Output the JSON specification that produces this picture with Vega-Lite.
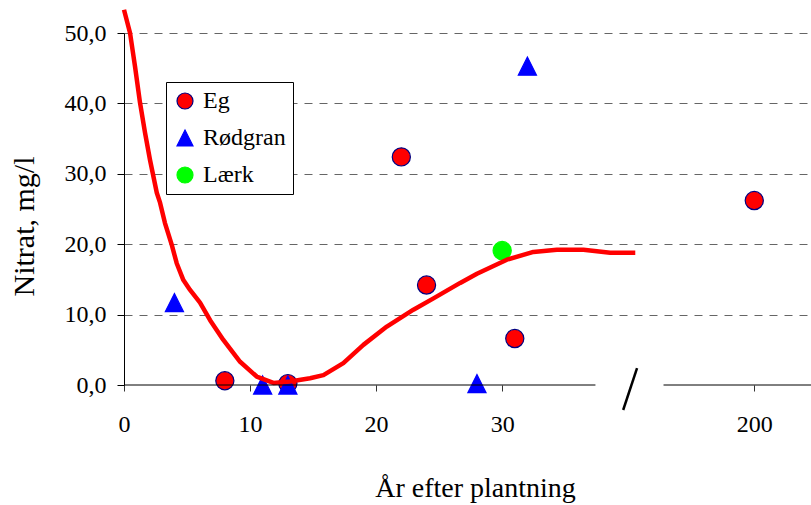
{
  "$schema": "https://vega.github.io/schema/vega-lite/v6.json",
  "width": 687,
  "height": 352,
  "autosize": {"type": "none"},
  "padding": {"left": 124, "top": 33, "right": 0, "bottom": 120},
  "background": "white",
  "config": {
    "view": {"stroke": null},
    "font": "Liberation Serif"
  },
  "encoding": {
    "x": {
      "field": "x", "type": "quantitative",
      "scale": {"domain": [0, 54.5], "nice": false, "zero": false},
      "axis": {
        "values": [0, 10, 20, 30, 50],
        "labelExpr": "datum.value == 50 ? '200' : datum.label",
        "domain": false, "grid": false,
        "tickSize": 6, "tickColor": "#333", "tickWidth": 1,
        "labelFont": "Liberation Serif", "labelFontSize": 24, "labelColor": "black",
        "labelPadding": 21, "labelFlush": false, "labelOverlap": false,
        "title": "År efter plantning",
        "titleFont": "Liberation Serif", "titleFontSize": 28, "titleFontWeight": "normal", "titleColor": "black",
        "titleX": 351, "titleY": 111, "titleBaseline": "alphabetic", "titleAlign": "center"
      }
    },
    "y": {
      "field": "y", "type": "quantitative",
      "scale": {"domain": [0, 50], "nice": false},
      "axis": {
        "values": [0, 10, 20, 30, 40, 50],
        "labelExpr": "replace(format(datum.value, '.1f'), '.', ',')",
        "domainColor": "black", "domainWidth": 1,
        "tickColor": "black", "tickSize": 7, "tickWidth": 1,
        "labelFont": "Liberation Serif", "labelFontSize": 24, "labelColor": "black", "labelPadding": 11,
        "grid": true, "gridColor": "#666", "gridDash": [8, 7], "gridWidth": 1,
        "gridOpacity": {"condition": {"test": "datum.value === 0", "value": 0}, "value": 1},
        "title": "Nitrat, mg/l",
        "titleFont": "Liberation Serif", "titleFontSize": 30, "titleFontWeight": "normal", "titleColor": "black",
        "titleAngle": -90, "titleX": -91, "titleY": 193, "titleBaseline": "alphabetic", "titleAlign": "center"
      }
    }
  },
  "layer": [
    {
      "data": {"values": [
        {"tree": "Eg", "x": 8, "y": 0.6},
        {"tree": "Eg", "x": 13, "y": 0.2},
        {"tree": "Eg", "x": 22, "y": 32.4},
        {"tree": "Eg", "x": 24, "y": 14.2},
        {"tree": "Eg", "x": 31, "y": 6.6},
        {"tree": "Eg", "x": 50, "y": 26.2},
        {"tree": "Rødgran", "x": 4, "y": 11.7},
        {"tree": "Rødgran", "x": 11, "y": 0},
        {"tree": "Rødgran", "x": 13, "y": 0},
        {"tree": "Rødgran", "x": 28, "y": 0.2},
        {"tree": "Rødgran", "x": 32, "y": 45.3},
        {"tree": "Lærk", "x": 30, "y": 19.1}
      ]},
      "mark": {"type": "point", "size": 330, "strokeWidth": 1.2, "opacity": 1},
      "encoding": {
        "fill": {
          "field": "tree", "type": "nominal",
          "scale": {"domain": ["Eg", "Rødgran", "Lærk"], "range": ["#FF0000", "#0000FF", "#00FF00"]},
          "legend": {
            "orient": "none", "legendX": 42, "legendY": 49, "title": null,
            "labelFont": "Liberation Serif", "labelFontSize": 24, "labelColor": "black",
            "symbolSize": 256, "symbolOpacity": 1, "symbolStrokeWidth": 1.2,
            "strokeColor": "black", "fillColor": "white", "padding": 7, "rowPadding": 13,
            "labelOffset": 6, "labelLimit": 300
          }
        },
        "stroke": {
          "field": "tree", "type": "nominal",
          "scale": {"domain": ["Eg", "Rødgran", "Lærk"], "range": ["#000080", "#0000FF", "#00FF00"]},
          "legend": {
            "orient": "none", "legendX": 42, "legendY": 49, "title": null,
            "labelFont": "Liberation Serif", "labelFontSize": 24, "labelColor": "black",
            "symbolSize": 256, "symbolOpacity": 1, "symbolStrokeWidth": 1.2,
            "strokeColor": "black", "fillColor": "white", "padding": 7, "rowPadding": 13,
            "labelOffset": 6, "labelLimit": 300
          }
        },
        "shape": {
          "field": "tree", "type": "nominal",
          "scale": {"domain": ["Eg", "Rødgran", "Lærk"], "range": ["circle", "M0,-1L1,1L-1,1Z", "circle"]},
          "legend": {
            "orient": "none", "legendX": 42, "legendY": 49, "title": null,
            "labelFont": "Liberation Serif", "labelFontSize": 24, "labelColor": "black",
            "symbolSize": 256, "symbolOpacity": 1, "symbolStrokeWidth": 1.2,
            "strokeColor": "black", "fillColor": "white", "padding": 7, "rowPadding": 13,
            "labelOffset": 6, "labelLimit": 300
          }
        }
      }
    },
    {
      "data": {"values": [
        {"x": 0, "y": 53.3}, {"x": 0.48, "y": 50.0}, {"x": 0.87, "y": 45.3}, {"x": 1.27, "y": 40.1},
        {"x": 1.67, "y": 35.8}, {"x": 2.06, "y": 32.0}, {"x": 2.6, "y": 27.3}, {"x": 2.86, "y": 25.9},
        {"x": 3.25, "y": 23.0}, {"x": 3.79, "y": 19.9}, {"x": 4.18, "y": 17.3}, {"x": 4.71, "y": 14.9},
        {"x": 5.24, "y": 13.5}, {"x": 6.03, "y": 11.7}, {"x": 6.83, "y": 9.2}, {"x": 7.88, "y": 6.4},
        {"x": 9.21, "y": 3.3}, {"x": 10.53, "y": 1.2}, {"x": 11.85, "y": 0.3}, {"x": 13.17, "y": 0.5},
        {"x": 14.76, "y": 0.95}, {"x": 15.82, "y": 1.4}, {"x": 17.4, "y": 3.1}, {"x": 18.99, "y": 5.7},
        {"x": 20.85, "y": 8.3}, {"x": 22.96, "y": 10.7}, {"x": 24.55, "y": 12.3}, {"x": 26.67, "y": 14.5},
        {"x": 28.0, "y": 15.8}, {"x": 30.37, "y": 17.8}, {"x": 32.48, "y": 18.9}, {"x": 34.34, "y": 19.2},
        {"x": 36.45, "y": 19.2}, {"x": 38.57, "y": 18.8}, {"x": 40.56, "y": 18.8}
      ]},
      "mark": {"type": "line", "color": "#FF0000", "strokeWidth": 4.5, "strokeJoin": "round", "strokeCap": "butt"},
      "encoding": {}
    },
    {
      "data": {"values": [
        {"part": "axis", "x": 0, "x2": 37.4, "y": 0, "y2": 0},
        {"part": "axis", "x": 42.8, "x2": 54.5, "y": 0, "y2": 0},
        {"part": "break", "x": 39.6, "x2": 40.7, "y": -3.55, "y2": 2.4}
      ]},
      "mark": {"type": "rule", "color": "black"},
      "encoding": {
        "x2": {"field": "x2"},
        "y2": {"field": "y2"},
        "strokeWidth": {"field": "part", "type": "nominal", "scale": {"domain": ["axis", "break"], "range": [1, 2.5]}, "legend": null}
      }
    }
  ]
}
